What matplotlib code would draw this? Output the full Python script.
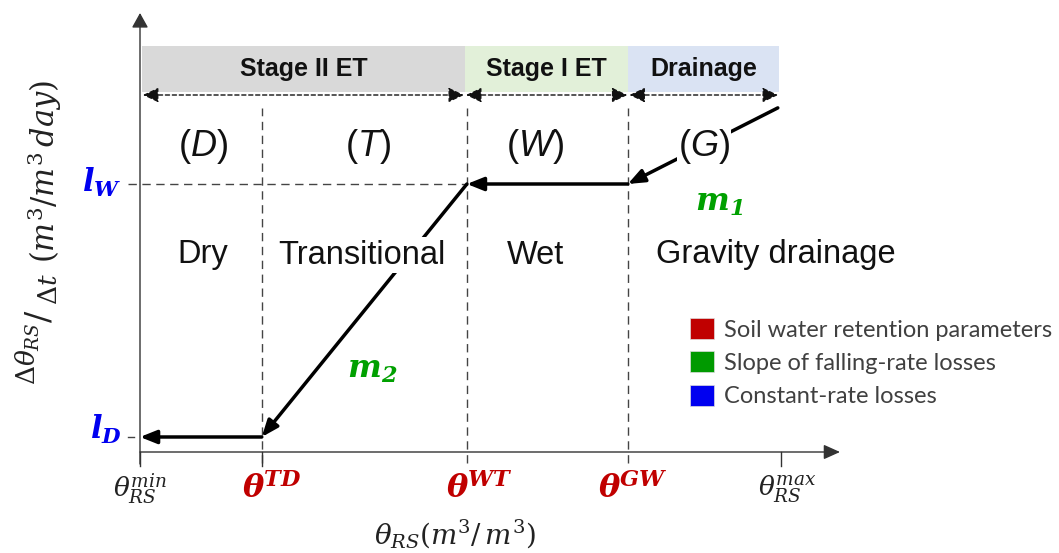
import matplotlib
matplotlib.use('Agg')
import matplotlib.pyplot as plt
from matplotlib.patches import Patch, Rectangle

plt.rcParams['font.family'] = ['Liberation Sans', 'DejaVu Sans']
plt.rcParams['mathtext.fontset'] = 'custom'
plt.rcParams['mathtext.rm'] = 'DejaVu Serif'
plt.rcParams['mathtext.it'] = 'DejaVu Serif:italic'
plt.rcParams['mathtext.bf'] = 'DejaVu Serif:bold'
plt.rcParams['mathtext.bfit'] = 'DejaVu Serif:italic:bold'
plt.rcParams['mathtext.sf'] = 'Liberation Sans:italic'

# conceptual loss function (theta in relative units, rate with l_W = 1)
theta_ticks = [0.0, 0.19, 0.51, 0.761, 1.0]   # min, TD, WT, GW, max
tick_labels = [r'$\theta_{RS}^{min}$', r'$\mathbfit{\theta^{TD}}$', r'$\mathbfit{\theta^{WT}}$',
               r'$\mathbfit{\theta^{GW}}$', r'$\theta_{RS}^{max}$']
l_D = 0.056
l_W = 1.0
curve_x = [0.995, 0.761, 0.51, 0.19, 0.0]
curve_y = [1.284, 1.0, 1.0, 0.056, 0.056]
stage_names = ['Stage II ET', 'Stage I ET', 'Drainage']
stage_edges = [0.003, 0.507, 0.762, 0.997]
stage_colors = ['#D9D9D9', '#E2F0D9', '#DAE3F3']
zone_tags = ['(D)', '(T)', '(W)', '(G)']
zone_names = ['Dry', 'Transitional', 'Wet', 'Gravity drainage']
legend_labels = ['Soil water retention parameters', 'Slope of falling-rate losses', 'Constant-rate losses']

RED = '#C00000'
GREEN = '#00A000'
BLUE = '#0000F0'
legend_colors = [RED, '#009A00', BLUE]

# pixel scale of the drawing
PX, PY = 641.0, 268.0
def dx(p):
    return p / PX
def dy(p):
    return p / PY
def at(px, py):
    # figure pixel -> data coords
    return (px - 140) / PX, (452 - py) / PY

fig = plt.figure(figsize=(10.59, 5.53), dpi=100)
ax = fig.add_axes([0, 0, 1, 1])
ax.set_xlim(-140 / PX, (1059 - 140) / PX)
ax.set_ylim(-(553 - 452) / PY, 452 / PY)
ax.axis('off')

# axes with arrows
ax.annotate('', xy=(dx(700), 0), xytext=(0, 0),
            arrowprops=dict(arrowstyle='-|>,head_length=1.0,head_width=0.45', lw=1.0,
                            color='#333333', shrinkA=0, shrinkB=0))
ax.annotate('', xy=(0, dy(439)), xytext=(0, dy(-12)),
            arrowprops=dict(arrowstyle='-|>,head_length=0.9,head_width=0.5', lw=1.0,
                            color='#333333', shrinkA=0, shrinkB=0))

# stage bands
band_bottom, band_top = dy(452 - 92), dy(452 - 46)
for i, name in enumerate(stage_names):
    x0, x1 = stage_edges[i], stage_edges[i + 1]
    ax.add_patch(Rectangle((x0, band_bottom), x1 - x0, band_top - band_bottom,
                           facecolor=stage_colors[i], edgecolor='none', zorder=0))
    ax.text((x0 + x1) / 2, dy(452 - 69), name, ha='center', va='center',
            fontsize=18, fontweight='bold', color='#111111')
    ax.annotate('', xy=(x1 - dx(1), dy(452 - 95)), xytext=(x0 + dx(1), dy(452 - 95)),
                arrowprops=dict(arrowstyle='<|-|>,head_length=0.95,head_width=0.45', lw=1.0,
                                linestyle=(0, (3, 2)), color='#111111', shrinkA=0, shrinkB=0))

# vertical dashed thresholds
for t in theta_ticks[1:4]:
    ax.plot([t, t], [dy(-11), dy(452 - 108)], color='#444444', lw=1.0,
            dashes=(6, 4), zorder=1)
ax.plot([dx(-12), theta_ticks[2]], [l_W, l_W], color='#444444', lw=1.0, dashes=(6, 4), zorder=1)
ax.plot([dx(-12), dx(-6)], [l_D, l_D], color='#444444', lw=1.0)

# tick marks
for t in [theta_ticks[0], theta_ticks[1], theta_ticks[4]]:
    ax.plot([t, t], [0, dy(-14)], color='#333333', lw=1.0)

# tick labels
tick_colors = ['#222222', RED, RED, RED, '#222222']
tick_sizes = [19, 23, 23, 23, 19]
tick_shift = [0, 10, 12, 5, 6]
for t, lab, c, s, sh in zip(theta_ticks, tick_labels, tick_colors, tick_sizes, tick_shift):
    ax.text(t + dx(sh), dy(452 - 489), lab, ha='center', va='center', fontsize=s, color=c)

# level labels
ax.text(dx(-18), l_W + dy(2), r'$\mathbfit{l_W}$', ha='right', va='center', fontsize=22, color=BLUE)
ax.text(dx(-18), l_D + dy(8), r'$\mathbfit{l_D}$', ha='right', va='center', fontsize=22, color=BLUE)

# loss function with arrows
for i in range(len(curve_x) - 1):
    ax.annotate('', xy=(curve_x[i + 1], curve_y[i + 1]), xytext=(curve_x[i], curve_y[i]),
                arrowprops=dict(arrowstyle='-|>,head_length=1.0,head_width=0.4', lw=2.5,
                                color='black', shrinkA=0, shrinkB=0), zorder=3)

# zone labels
tag_x = [203, 368, 535, 704]
name_x = [203, 362, 535, 776]
for tx, tag in zip(tag_x, zone_tags):
    ax.text(*at(tx, 147), tag[0] + r'$\mathsf{' + tag[1] + '}$' + tag[2],
            ha='center', va='center', fontsize=26, color='#111111', zorder=4,
            bbox=dict(facecolor='white', edgecolor='none', pad=1))
for nx, name in zip(name_x, zone_names):
    ax.text(*at(nx, 255), name, ha='center', va='center',
            fontsize=23.5, color='#111111', zorder=4,
            bbox=dict(facecolor='white', edgecolor='none', pad=2))

# slopes
ax.text(*at(719, 203), r'$\mathbfit{m_1}$', ha='center', va='center', fontsize=23, color=GREEN)
ax.text(*at(372, 370), r'$\mathbfit{m_2}$', ha='center', va='center', fontsize=23, color=GREEN)

# axis titles
ax.text(*at(455, 534), r'$\theta_{RS}(m^3/\,m^3)$', ha='center', va='center',
        fontsize=20, color='#222222')
ylab = [(r'$\Delta\theta_{RS}$', 28, 354, 19),
        (r'$/$', 41, 316, 24),
        (r'$\Delta t$', 50, 289, 19),
        (r'$(m^3/m^3\,day)$', 45, 172, 22)]
for s, lx, ly, fs in ylab:
    ax.text(*at(lx, ly), s, ha='center', va='center', rotation=90, fontsize=fs, color='#222222')

# legend
handles = [Patch(facecolor=c, edgecolor='#dddddd', lw=0.5) for c in legend_colors]
leg = ax.legend(handles, legend_labels, loc='upper left', bbox_to_anchor=(690 / 1059, 1 - 318 / 553),
                bbox_transform=fig.transFigure, frameon=False, borderpad=0, borderaxespad=0,
                handlelength=1.0, handleheight=1.0, handletextpad=0.42, labelspacing=0.45,
                prop={'family': 'Lato', 'size': 17})
for txt in leg.get_texts():
    txt.set_color('#404040')

fig.savefig('out.png', dpi=100)
